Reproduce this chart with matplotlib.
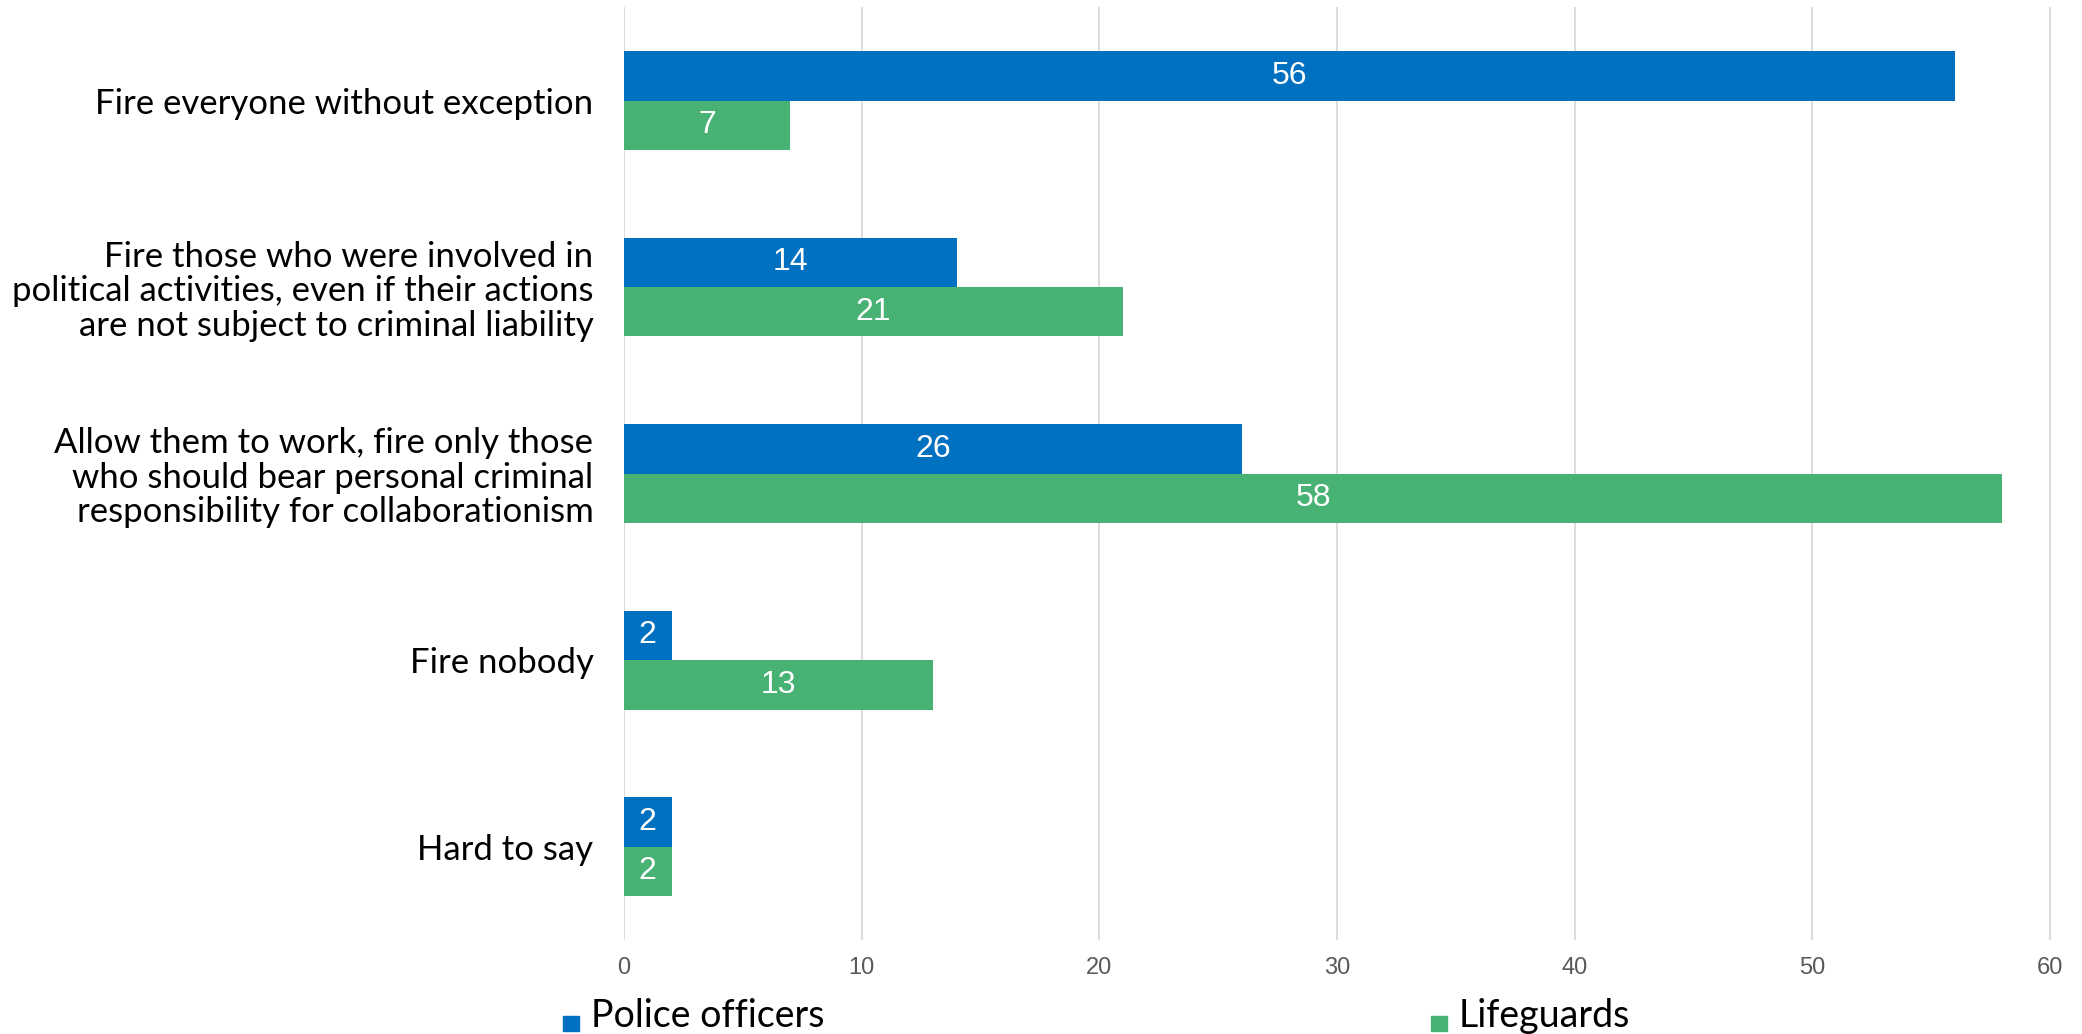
import matplotlib.pyplot as plt
from matplotlib.patches import Rectangle
import numpy as np

categories = [
    "Fire everyone without exception",
    "Fire those who were involved in\npolitical activities, even if their actions\nare not subject to criminal liability",
    "Allow them to work, fire only those\nwho should bear personal criminal\nresponsibility for collaborationism",
    "Fire nobody",
    "Hard to say",
]
police = [56, 14, 26, 2, 2]
lifeguards = [7, 21, 58, 13, 2]
series_names = ["Police officers", "Lifeguards"]
x_ticks = [0, 10, 20, 30, 40, 50, 60]

blue = "#0070C0"
green = "#48B174"
label_font = ["Lato", "DejaVu Sans"]
num_font = ["Liberation Sans", "DejaVu Sans"]

fig = plt.figure(figsize=(20.82, 10.34), dpi=100)
ax = fig.add_axes([0.2997, 0.091, 0.6883, 0.902])

y = np.arange(len(categories))
h = 0.265
bars_p = ax.barh(y - h / 2, police, height=h, color=blue, zorder=3)
bars_l = ax.barh(y + h / 2, lifeguards, height=h, color=green, zorder=3)

for bars, vals in [(bars_p, police), (bars_l, lifeguards)]:
    for b, v in zip(bars, vals):
        ax.text(b.get_x() + b.get_width() / 2, b.get_y() + b.get_height() / 2,
                str(v), ha='center', va='center', color='white',
                fontsize=23, family=num_font, zorder=4)

ax.set_ylim(len(categories) - 0.5, -0.5)
ax.set_xlim(0, 60.3)
ax.set_xticks(x_ticks)
ax.set_yticks(y)
ax.set_yticklabels(categories, fontsize=25, family=label_font,
                   ha='right', multialignment='right', linespacing=1.1)
ax.tick_params(axis='y', length=0, pad=22)
ax.tick_params(axis='x', length=0, pad=12, labelsize=17, labelcolor='#595959')
for t in ax.get_xticklabels():
    t.set_family(["Liberation Sans Narrow", "Liberation Sans", "DejaVu Sans"])

ax.xaxis.grid(True, color='#D9D9D9', linewidth=1.3, zorder=0)
for s in ax.spines.values():
    s.set_visible(False)

# legend drawn by hand, two entries spread apart
for x0, name, col in [(0.2704, series_names[0], blue), (0.6873, series_names[1], green)]:
    fig.add_artist(Rectangle((x0, 0.003), 0.0075, 0.0145, transform=fig.transFigure,
                             color=col))
    fig.text(x0 + 0.0135, 0.007, name, fontsize=27, family=label_font,
             ha='left', va='baseline')

fig.savefig("out.png", dpi=100)
